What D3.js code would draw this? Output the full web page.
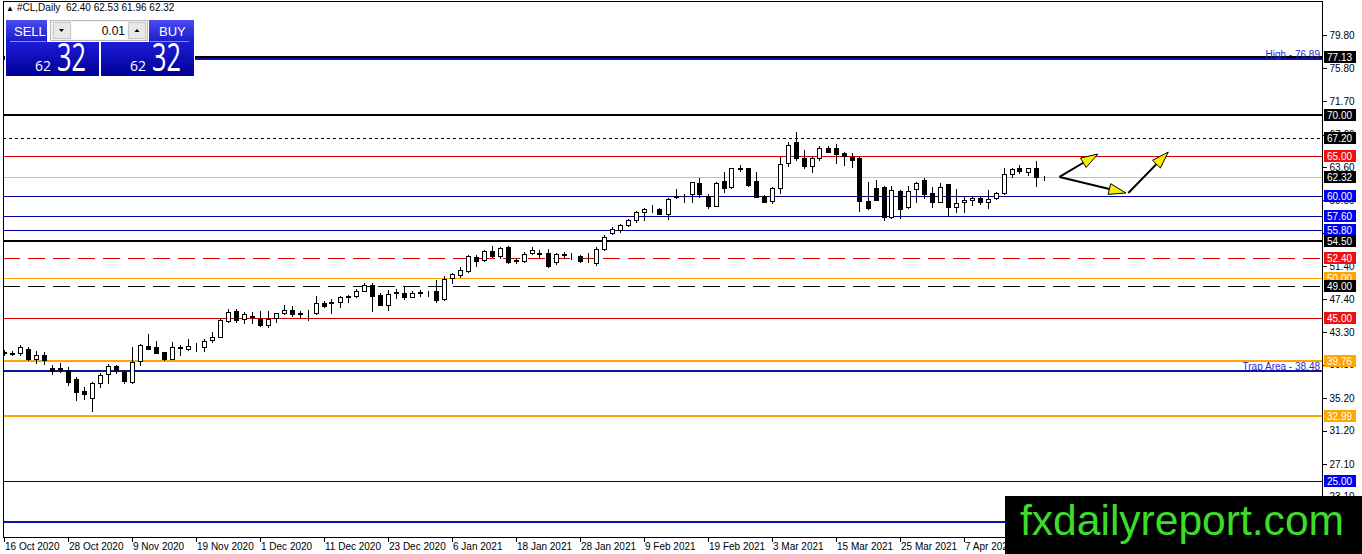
<!DOCTYPE html>
<html>
<head>
<meta charset="utf-8">
<script src="https://cdn.jsdelivr.net/npm/d3@7"></script>
<style>
  html, body { margin: 0; padding: 0; background: #fff; overflow: hidden; }
  svg { display: block; font-family: "Liberation Sans", Arial, sans-serif; }
</style>
</head>
<body>
<svg id="chart" width="1362" height="554"></svg>
<script>
// daily candles, [open, high, low, close], 16 Oct 2020 onwards
var ohlc = [
  [40.75, 41.10, 40.45, 40.80], [40.66, 41.00, 40.45, 40.72], [40.69, 41.72, 40.49, 41.43],
  [41.18, 41.43, 39.87, 39.95], [39.95, 40.94, 39.54, 40.53], [40.53, 40.86, 39.38, 39.87],
  [38.89, 39.26, 38.15, 38.56], [38.85, 39.46, 38.39, 38.75], [38.64, 39.05, 36.80, 37.21],
  [37.58, 37.74, 34.95, 35.98], [36.06, 36.59, 35.03, 35.69], [35.16, 37.20, 33.60, 37.00],
  [37.00, 38.31, 36.59, 37.98], [38.11, 39.34, 37.08, 39.13], [39.13, 39.30, 38.31, 38.52],
  [38.36, 38.64, 37.00, 37.33], [37.21, 41.43, 37.08, 39.67], [39.79, 41.84, 39.26, 41.67],
  [41.63, 43.07, 41.20, 41.27], [41.47, 42.25, 40.70, 40.77], [40.81, 40.90, 39.87, 40.03],
  [40.03, 42.13, 40.00, 41.43], [41.40, 41.67, 40.45, 41.45], [41.18, 42.41, 41.10, 41.59],
  [41.60, 42.00, 41.00, 41.65], [41.51, 42.41, 41.00, 42.17], [42.33, 43.32, 42.13, 42.74],
  [42.74, 45.08, 42.70, 44.79], [44.71, 46.18, 44.55, 45.73], [45.90, 46.10, 44.55, 44.79],
  [44.87, 45.82, 44.46, 45.53], [45.15, 45.78, 44.46, 45.25], [44.91, 45.86, 44.05, 44.18],
  [44.22, 45.90, 43.89, 44.87], [45.00, 45.70, 44.55, 45.61], [45.61, 46.68, 45.53, 46.02],
  [46.02, 46.51, 45.28, 45.53], [45.58, 45.94, 45.20, 45.64], [45.60, 46.02, 44.79, 45.65],
  [45.61, 47.74, 45.53, 46.92], [46.88, 47.09, 46.35, 46.51], [46.90, 47.41, 45.69, 46.95],
  [46.96, 47.74, 46.43, 47.58], [47.60, 47.91, 47.00, 47.72], [47.74, 48.56, 47.66, 48.32],
  [48.40, 49.30, 48.32, 49.05], [49.05, 49.30, 45.94, 47.74], [47.87, 48.07, 46.60, 46.68],
  [46.68, 48.48, 46.02, 47.99], [48.15, 48.56, 47.50, 48.25], [48.15, 48.97, 47.41, 47.58],
  [47.66, 48.32, 47.60, 48.15], [48.10, 48.48, 47.74, 48.18], [48.12, 48.40, 47.80, 48.16],
  [48.32, 49.71, 47.05, 47.25], [47.33, 50.20, 47.25, 49.79], [49.92, 50.61, 49.38, 50.41],
  [50.37, 51.27, 50.12, 50.94], [50.86, 52.79, 50.74, 52.70], [52.58, 52.74, 51.43, 52.09],
  [52.17, 53.40, 52.09, 53.28], [53.32, 53.89, 52.58, 52.66], [52.66, 53.81, 52.37, 53.69],
  [53.81, 53.89, 51.76, 51.96], [52.05, 52.37, 51.76, 52.12], [52.00, 53.20, 51.92, 52.91],
  [53.07, 53.73, 52.91, 53.40], [52.95, 53.40, 52.58, 53.02], [53.07, 53.48, 51.35, 51.43],
  [51.96, 52.99, 51.68, 52.91], [52.80, 53.20, 52.42, 52.86], [52.75, 53.07, 52.25, 52.80],
  [52.66, 52.83, 51.92, 52.00], [52.15, 52.99, 51.92, 52.20], [51.76, 53.81, 51.60, 53.52],
  [53.48, 55.25, 53.40, 54.96], [55.44, 56.27, 55.32, 55.98], [55.85, 56.55, 55.57, 56.47],
  [56.47, 57.20, 56.39, 57.04], [57.09, 58.19, 56.88, 58.03], [58.03, 58.60, 57.09, 58.40],
  [58.40, 58.93, 58.03, 58.46], [58.44, 58.60, 57.78, 57.86], [57.86, 59.83, 57.21, 59.67],
  [60.08, 60.90, 59.83, 59.95], [60.05, 60.32, 59.26, 60.10], [60.24, 61.80, 59.34, 61.72],
  [61.60, 62.29, 59.96, 60.24], [60.08, 60.24, 58.52, 58.85], [58.85, 61.72, 58.77, 61.60],
  [61.88, 63.03, 60.57, 61.06], [61.19, 63.52, 60.98, 63.44], [63.40, 63.85, 63.11, 63.46],
  [63.44, 63.52, 61.31, 61.39], [61.88, 63.03, 59.91, 59.96], [60.08, 60.16, 59.26, 59.34],
  [59.42, 61.19, 59.14, 60.98], [60.98, 64.88, 60.36, 63.93], [64.06, 66.72, 63.77, 66.31],
  [66.72, 67.95, 64.46, 64.67], [64.75, 65.70, 63.52, 63.77], [63.77, 65.00, 63.03, 64.75],
  [64.67, 66.23, 64.50, 65.98], [65.98, 66.15, 65.41, 65.49], [65.90, 66.39, 64.06, 65.24],
  [65.28, 65.49, 63.85, 65.00], [64.88, 65.28, 63.64, 64.42], [64.67, 64.88, 58.19, 59.42],
  [59.42, 61.72, 58.44, 58.52], [60.98, 62.00, 59.50, 59.55], [61.19, 61.31, 57.09, 57.45],
  [57.45, 61.31, 57.37, 60.73], [60.65, 60.77, 57.37, 58.44], [58.64, 61.31, 58.60, 60.65],
  [60.86, 61.72, 59.34, 61.60], [62.00, 62.29, 59.83, 60.32], [60.36, 61.19, 58.72, 59.34],
  [59.34, 61.60, 59.26, 61.19], [61.47, 61.47, 57.62, 58.72], [58.72, 60.90, 58.03, 59.13],
  [59.26, 60.08, 58.03, 59.55], [59.50, 60.08, 58.93, 59.83], [59.83, 60.08, 59.10, 59.26],
  [59.26, 60.73, 58.60, 59.67], [59.75, 60.57, 59.67, 60.36], [60.36, 63.44, 60.24, 62.70],
  [62.78, 63.52, 62.41, 63.36], [63.44, 63.85, 62.82, 63.11], [62.95, 63.52, 62.62, 63.44],
  [63.52, 64.34, 61.31, 62.41], [62.40, 62.53, 61.96, 62.32]
];

// date labels, one every 8 bars
var dateTickIndex = [0, 8, 16, 24, 32, 40, 48, 56, 64, 72, 80, 88, 96, 104, 112, 120];
var dateTickLabels = ["16 Oct 2020", "28 Oct 2020", "9 Nov 2020", "19 Nov 2020", "1 Dec 2020",
  "11 Dec 2020", "23 Dec 2020", "6 Jan 2021", "18 Jan 2021", "28 Jan 2021", "9 Feb 2021",
  "19 Feb 2021", "3 Mar 2021", "15 Mar 2021", "25 Mar 2021", "7 Apr 2021"];

// price scale ticks
var priceTicks = [79.80, 75.80, 71.70, 67.60, 63.60, 59.50, 55.50, 51.40, 47.40, 43.30,
  39.30, 35.20, 31.20, 27.10, 23.10];

// horizontal levels drawn on the chart
var levelPrices = [77.13, 76.89, 70.00, 67.20, 65.00, 62.32, 60.00, 57.60, 55.80, 54.50,
  52.40, 50.00, 49.00, 45.00, 39.76, 38.48, 32.99, 25.00, 20.00];
var levelKinds = ["black2", "navy2", "black2", "dotted", "red", "current", "navy", "navy", "navy",
  "black2", "redDash", "orange", "blackDash", "red", "orange2", "navy2", "orange2", "navy", "navy2"];
// which levels get a price tag on the axis
var taggedLevels = [77.13, 70.00, 67.20, 65.00, 62.32, 60.00, 57.60, 55.80, 54.50, 52.40,
  50.00, 49.00, 45.00, 39.76, 32.99, 25.00];

var levelTexts = ["High - 76.89", "Trap Area - 38.48"];
var levelTextPrices = [76.89, 38.48];

// forecast arrows, [bar, price] from / to
var arrowFrom = [[132.0, 62.38], [132.0, 62.38], [140.6, 60.41]];
var arrowTo = [[136.8, 65.20], [140.3, 60.41], [145.6, 65.45]];

var header = "#CL,Daily  62.40 62.53 61.96 62.32";
var bidBig = "32", bidSmall = "62", lotSize = "0.01";

// ---------------------------------------------------------------
var kindStyle = {
  black2:    { stroke: "#000", width: 2, dash: null },
  navy:      { stroke: "#0000a0", width: 1, dash: null },
  navy2:     { stroke: "#0a14a8", width: 2, dash: null },
  dotted:    { stroke: "#000", width: 1, dash: "3,3" },
  red:       { stroke: "#d40000", width: 1, dash: null },
  redDash:   { stroke: "#e00000", width: 1, dash: "17,8" },
  blackDash: { stroke: "#000", width: 1, dash: "17,8" },
  current:   { stroke: "#c0c0c0", width: 1, dash: null },
  orange:    { stroke: "#ffa500", width: 1, dash: null },
  orange2:   { stroke: "#ffa500", width: 2, dash: null }
};
var tagColor = { black2: "#000", dotted: "#000", current: "#000", blackDash: "#000",
  red: "#f01010", redDash: "#f01010", navy: "#0000f0", navy2: "#0000f0",
  orange: "#ffa500", orange2: "#ffa500" };

var plotLeft = 3, plotRight = 1322, plotTop = 1, plotBottom = 537;

var svg = d3.select("#chart");

var x = d3.scaleLinear().domain([0, 130]).range([3.5, 1043.5]);
var y = d3.scaleLinear().domain([25, 70]).range([481, 115]);
var px = function(i) { return Math.round(x(i)) + 0.5; };
var py = function(p) { return Math.round(y(p)) + 0.5; };

var defs = svg.append("defs");
defs.append("clipPath").attr("id", "plot")
  .append("rect").attr("x", plotLeft).attr("y", plotTop)
  .attr("width", plotRight - plotLeft).attr("height", plotBottom - plotTop);

var plot = svg.append("g").attr("clip-path", "url(#plot)");

// levels
levelPrices.forEach(function(p, k) {
  var s = kindStyle[levelKinds[k]];
  var yy = s.width === 2 ? Math.round(y(p)) : py(p);
  plot.append("line")
    .attr("x1", plotLeft).attr("x2", plotRight)
    .attr("y1", yy).attr("y2", yy)
    .attr("stroke", s.stroke).attr("stroke-width", s.width)
    .attr("stroke-dasharray", s.dash)
    .attr("shape-rendering", "crispEdges");
});

// candles
var bars = plot.selectAll("g.bar").data(ohlc).join("g").attr("class", "bar");
bars.append("line")
  .attr("x1", function(d, i) { return px(i); })
  .attr("x2", function(d, i) { return px(i); })
  .attr("y1", function(d) { return Math.round(y(d[1])); })
  .attr("y2", function(d) { return Math.round(y(d[2])) + 1; })
  .attr("stroke", "#000").attr("shape-rendering", "crispEdges");
bars.append("rect")
  .attr("x", function(d, i) { return px(i) - 2; })
  .attr("width", 4)
  .attr("y", function(d) { return py(Math.max(d[0], d[3])); })
  .attr("height", function(d) { return Math.round(y(Math.min(d[0], d[3]))) - Math.round(y(Math.max(d[0], d[3]))); })
  .attr("fill", function(d) { return d[3] >= d[0] ? "#fff" : "#000"; })
  .attr("stroke", "#000").attr("shape-rendering", "crispEdges");

// level captions
levelTexts.forEach(function(t, k) {
  svg.append("text")
    .attr("x", plotRight - 2).attr("y", Math.round(y(levelTextPrices[k])) - 1)
    .attr("text-anchor", "end").attr("font-size", 10).attr("fill", "#2a2ad0")
    .text(t);
});

// arrows
arrowFrom.forEach(function(a, k) {
  var x1 = x(a[0]), y1 = y(a[1]), x2 = x(arrowTo[k][0]), y2 = y(arrowTo[k][1]);
  var ang = Math.atan2(y2 - y1, x2 - x1), len = 17, hw = 5.5;
  var bx = x2 - len * Math.cos(ang), by = y2 - len * Math.sin(ang);
  svg.append("line").attr("x1", x1).attr("y1", y1).attr("x2", bx).attr("y2", by)
    .attr("stroke", "#000").attr("stroke-width", 2);
  var pts = [[x2, y2],
    [bx + hw * Math.sin(ang), by - hw * Math.cos(ang)],
    [bx - hw * Math.sin(ang), by + hw * Math.cos(ang)]];
  svg.append("polygon").attr("points", pts.map(function(p) { return p.join(","); }).join(" "))
    .attr("fill", "#f5f000").attr("stroke", "#000").attr("stroke-width", 1);
});

// frame
svg.append("rect")
  .attr("x", plotLeft + 0.5).attr("y", plotTop + 0.5)
  .attr("width", plotRight - plotLeft).attr("height", plotBottom - plotTop)
  .attr("fill", "none").attr("stroke", "#000").attr("shape-rendering", "crispEdges");

// price axis
var yAxis = svg.append("g")
  .attr("transform", "translate(" + (plotRight + 0.5) + ",0)")
  .call(d3.axisRight(y).tickValues(priceTicks).tickSize(4).tickPadding(3)
    .tickFormat(d3.format(".2f")));
yAxis.select(".domain").remove();
yAxis.selectAll("text").attr("font-size", 10).attr("font-family", "Liberation Sans, Arial, sans-serif").attr("fill", "#000");
yAxis.selectAll("line").attr("shape-rendering", "crispEdges");

// price tags
taggedLevels.forEach(function(p) {
  var kind = levelKinds[levelPrices.indexOf(p)];
  var cy = Math.round(y(p));
  svg.append("rect").attr("x", plotRight + 2).attr("y", cy - 6)
    .attr("width", 32).attr("height", 12).attr("fill", tagColor[kind]);
  svg.append("text").attr("x", plotRight + 5).attr("y", cy + 4)
    .attr("font-size", 10).attr("fill", "#fff").text(d3.format(".2f")(p));
});

// date axis
var xAxis = svg.append("g")
  .attr("transform", "translate(0," + (plotBottom + 0.5) + ")")
  .call(d3.axisBottom(x).tickValues(dateTickIndex).tickSize(4).tickPadding(1)
    .tickFormat(function(d) { return dateTickLabels[dateTickIndex.indexOf(d)]; }));
xAxis.select(".domain").remove();
xAxis.selectAll("text").attr("text-anchor", "start").attr("dx", "1")
  .attr("font-size", 10).attr("font-family", "Liberation Sans, Arial, sans-serif").attr("fill", "#000");
xAxis.selectAll("line").attr("shape-rendering", "crispEdges");

// header
svg.append("text").attr("x", 6).attr("y", 11).attr("font-size", 8).text("\u25B2");
svg.append("text").attr("x", 17).attr("y", 11).attr("font-size", 10).attr("xml:space", "preserve").text(header);

// one-click trading panel
var g1 = defs.append("linearGradient").attr("id", "btn").attr("x1", 0).attr("y1", 0).attr("x2", 0).attr("y2", 1);
g1.append("stop").attr("offset", "0%").attr("stop-color", "#4a4af0");
g1.append("stop").attr("offset", "100%").attr("stop-color", "#1c1cc8");
var g2 = defs.append("linearGradient").attr("id", "big").attr("x1", 0).attr("y1", 0).attr("x2", 0).attr("y2", 1);
g2.append("stop").attr("offset", "0%").attr("stop-color", "#1c1cd8");
g2.append("stop").attr("offset", "100%").attr("stop-color", "#000096");

var panel = svg.append("g");
panel.append("rect").attr("x", 5).attr("y", 19).attr("width", 190).attr("height", 58).attr("fill", "#fff");
panel.append("rect").attr("x", 6).attr("y", 20).attr("width", 41).attr("height", 22).attr("fill", "url(#btn)");
panel.append("rect").attr("x", 149).attr("y", 20).attr("width", 45).attr("height", 22).attr("fill", "url(#btn)");
panel.append("rect").attr("x", 6).attr("y", 42).attr("width", 93).attr("height", 34).attr("fill", "url(#big)");
panel.append("rect").attr("x", 101).attr("y", 42).attr("width", 93).attr("height", 34).attr("fill", "url(#big)");
panel.append("line").attr("x1", 10).attr("x2", 46).attr("y1", 41.5).attr("y2", 41.5).attr("stroke", "#8c8cf0");
panel.append("line").attr("x1", 150).attr("x2", 189).attr("y1", 41.5).attr("y2", 41.5).attr("stroke", "#8c8cf0");
// lot selector
panel.append("rect").attr("x", 50.5).attr("y", 20.5).attr("width", 97).attr("height", 20).attr("fill", "#f0f0f0").attr("stroke", "#b8b8b8");
panel.append("rect").attr("x", 71.5).attr("y", 21.5).attr("width", 56).attr("height", 18).attr("fill", "#fff");
panel.append("rect").attr("x", 53.5).attr("y", 22.5).attr("width", 17).attr("height", 16).attr("fill", "#e8e8e8").attr("stroke", "#c8c8c8");
panel.append("rect").attr("x", 128.5).attr("y", 22.5).attr("width", 17).attr("height", 16).attr("fill", "#e8e8e8").attr("stroke", "#c8c8c8");
panel.append("path").attr("d", "M59,29 L64,29 L61.5,32 Z").attr("fill", "#000");
panel.append("path").attr("d", "M134.5,32 L139.5,32 L137,29 Z").attr("fill", "#000");
panel.append("text").attr("x", 125).attr("y", 35).attr("text-anchor", "end").attr("font-size", 12).attr("fill", "#000").text(lotSize);
panel.append("text").attr("x", 14).attr("y", 36).attr("font-size", 13).attr("fill", "#fff").text("SELL");
panel.append("text").attr("x", 159).attr("y", 36).attr("font-size", 13).attr("fill", "#fff").text("BUY");
[[35, 57], [130, 152]].forEach(function(p) {
  panel.append("text").attr("x", p[0]).attr("y", 71).attr("font-size", 14).attr("font-family", "Open Sans, Liberation Sans, sans-serif")
    .attr("fill", "#fff").text(bidSmall);
  panel.append("text").attr("x", p[1]).attr("y", 71).attr("font-size", 38).attr("font-family", "Open Sans, Liberation Sans, sans-serif")
    .attr("textLength", 29).attr("lengthAdjust", "spacingAndGlyphs").attr("fill", "#fff").text(bidBig);
});

// watermark
svg.append("rect").attr("x", 1005).attr("y", 496).attr("width", 357).attr("height", 58).attr("fill", "#000");
svg.append("text").attr("x", 1020).attr("y", 535).attr("font-size", 42)
  .attr("textLength", 324).attr("lengthAdjust", "spacingAndGlyphs")
  .attr("fill", "#3cdc2a").text("fxdailyreport.com");
</script>
</body>
</html>
